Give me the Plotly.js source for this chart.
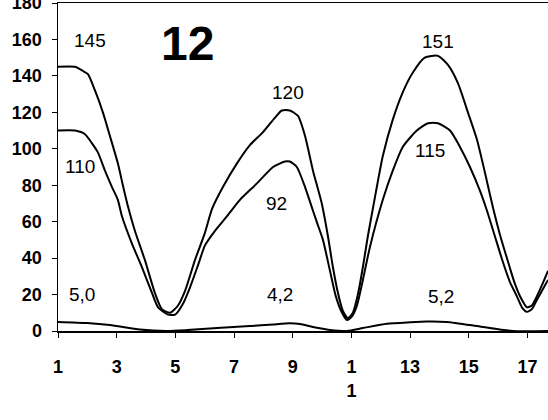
<!DOCTYPE html>
<html>
<head>
<meta charset="utf-8">
<script src="https://cdn.plot.ly/plotly-3.0.1.min.js"></script>
<style>html,body{margin:0;padding:0;background:#fff;}#chart{width:548px;height:420px;}</style>
</head>
<body>
<div id="chart"></div>
<script>
// Upper curve
const xUpper = [1.00,1.58,1.82,2.02,2.26,2.53,2.77,3.04,3.21,3.39,3.62,3.96,4.30,4.54,4.82,5.09,5.33,5.67,6.01,6.25,6.62,7.10,7.54,7.98,8.39,8.63,8.90,9.18,9.42,9.69,9.99,10.20,10.37,10.54,10.71,10.88,11.05,11.22,11.39,11.56,11.73,12.07,12.41,12.75,13.10,13.50,13.95,14.29,14.63,14.97,15.28,15.55,15.82,16.06,16.30,16.57,16.78,16.98,17.15,17.32,17.49,17.70];
const yUpper = [145,145,143,141,132,120,107,92,80,68,55,39,21,12,10,14,22,39,54,67,79,92,102,109,117,121,121,118,107,88,70,52,35,21,11,7,10,20,35,52,67,96,116,131,142,150,151,146,136,120,105,87,68,53,40,26,18,13,14,19,25,33];
// Middle curve
const xMiddle = [1.00,1.58,1.92,2.16,2.36,2.60,2.84,3.04,3.18,3.52,3.86,4.20,4.41,4.75,4.99,5.26,5.50,5.77,6.01,6.35,6.76,7.20,7.78,8.33,8.73,8.90,9.14,9.42,9.69,9.86,10.03,10.27,10.47,10.68,10.85,11.02,11.19,11.39,11.63,12.07,12.41,12.75,13.23,13.61,13.95,14.36,14.70,15.04,15.38,15.62,15.89,16.16,16.40,16.64,16.81,16.98,17.15,17.32,17.49,17.70];
const yMiddle = [110,110,108,103,98,88,79,72,63,48,35,21,13,9,9,15,24,36,47,55,63,72,81,90,93,93,90,79,66,58,50,33,19,10,6,8,14,28,46,72,88,101,110,114,114,110,101,90,77,66,52,38,27,19,13,10.5,12,17,22,28];
// Lower curve
const xLower = [1.00,1.99,2.77,3.79,4.71,5.40,6.42,7.54,8.33,8.90,9.25,9.69,10.27,10.85,11.39,12.21,13.00,13.57,14.25,15.38,16.50,17.70];
const yLower = [5.0,4.4,3.3,0.8,0,0.5,1.6,2.7,3.6,4.2,3.8,2.2,0.6,0,1.6,4.0,4.8,5.2,5.0,2.5,0,0];
// Tick labels
const xTickVals = [1,3,5,7,9,11,13,15,17];
const xTickText = ['1','3','5','7','9','1<br>1','13','15','17'];
const yTickVals = [0,20,40,60,80,100,120,140,160,180];
// Value labels
const labelText = ['145','110','5,0','120','92','4,2','151','115','5,2'];
const labelX = [2.09,1.75,1.82,8.84,8.43,8.56,13.95,13.67,14.05];
const labelY = [159.4,90.5,20,131,70,20,159,99,19];
const titleText = '12';

const line = {color:'#000', width:2, shape:'spline', smoothing:0.6};
const traces = [
  {x:xUpper, y:yUpper, mode:'lines', line:line, hoverinfo:'skip'},
  {x:xMiddle, y:yMiddle, mode:'lines', line:line, hoverinfo:'skip'},
  {x:xLower, y:yLower, mode:'lines', line:line, hoverinfo:'skip'}
];
const annotations = labelText.map((t,i)=>({
  x:labelX[i], y:labelY[i], xref:'x', yref:'y', text:t, showarrow:false,
  font:{family:'Liberation Sans, Arial, sans-serif', size:19, color:'#000'}
}));
annotations.push({x:5.43, y:158, xref:'x', yref:'y', text:'<b>'+titleText+'</b>', showarrow:false,
  font:{family:'Liberation Sans, Arial, sans-serif', size:48, color:'#000'}});

const layout = {
  width:548, height:420,
  margin:{l:58, r:0, t:3, b:89, pad:0},
  paper_bgcolor:'#fff', plot_bgcolor:'#fff',
  showlegend:false,
  font:{family:'Liberation Sans, Arial, sans-serif', color:'#000'},
  xaxis:{range:[1,17.7], tickvals:xTickVals, ticktext:xTickText, ticks:'outside', ticklen:5,
    tickcolor:'#000', showgrid:false, zeroline:false, showline:true, linecolor:'#000', linewidth:1.5,
    mirror:true, ticklabelstandoff:14, ticklabeloverflow:'allow',
    tickfont:{family:'Liberation Sans, Arial, sans-serif', size:18, color:'#000', weight:'bold'}},
  yaxis:{range:[0,180], tickvals:yTickVals, ticks:'outside', ticklen:5, tickcolor:'#000',
    showgrid:false, zeroline:false, showline:true, linecolor:'#000', linewidth:1.5, ticklabelstandoff:6,
    ticklabeloverflow:'allow',
    tickfont:{family:'Liberation Sans, Arial, sans-serif', size:18, color:'#000', weight:'bold'}},
  annotations:annotations
};
Plotly.newPlot('chart', traces, layout, {staticPlot:true, displayModeBar:false});
</script>
</body>
</html>
